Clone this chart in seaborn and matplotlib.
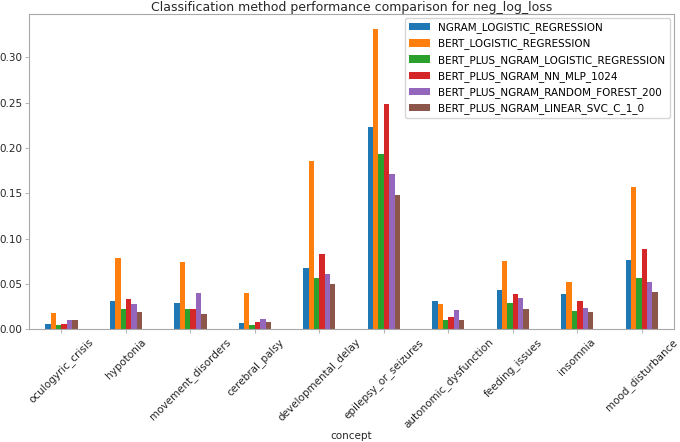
import matplotlib

matplotlib.use("Agg")
import matplotlib.pyplot as plt
import pandas as pd
import seaborn as sns

concepts = [
    "oculogyric_crisis",
    "hypotonia",
    "movement_disorders",
    "cerebral_palsy",
    "developmental_delay",
    "epilepsy_or_seizures",
    "autonomic_dysfunction",
    "feeding_issues",
    "insomnia",
    "mood_disturbance",
]
methods = [
    "NGRAM_LOGISTIC_REGRESSION",
    "BERT_LOGISTIC_REGRESSION",
    "BERT_PLUS_NGRAM_LOGISTIC_REGRESSION",
    "BERT_PLUS_NGRAM_NN_MLP_1024",
    "BERT_PLUS_NGRAM_RANDOM_FOREST_200",
    "BERT_PLUS_NGRAM_LINEAR_SVC_C_1_0",
]

ngram_lr = [0.0059, 0.0313, 0.0290, 0.0066, 0.0676, 0.2232, 0.0309, 0.0438, 0.0393, 0.0765]
bert_lr = [0.0176, 0.0790, 0.0743, 0.0397, 0.1853, 0.3310, 0.0283, 0.0750, 0.0526, 0.1570]
bert_ngram_lr = [0.0044, 0.0228, 0.0228, 0.0048, 0.0570, 0.1938, 0.0103, 0.0290, 0.0199, 0.0563]
bert_ngram_mlp = [0.0059, 0.0335, 0.0228, 0.0077, 0.0830, 0.2490, 0.0140, 0.0386, 0.0313, 0.0890]
bert_ngram_rf = [0.0103, 0.0276, 0.0404, 0.0114, 0.0614, 0.1717, 0.0217, 0.0342, 0.0239, 0.0526]
bert_ngram_svc = [0.0099, 0.0195, 0.0169, 0.0085, 0.0500, 0.1478, 0.0103, 0.0220, 0.0188, 0.0408]

series = [ngram_lr, bert_lr, bert_ngram_lr, bert_ngram_mlp, bert_ngram_rf, bert_ngram_svc]

rows = []
for method, vals in zip(methods, series):
    for concept, v in zip(concepts, vals):
        rows.append({"concept": concept, "method": method, "score": v})
df = pd.DataFrame(rows)

plt.rcParams["font.family"] = ["DejaVu Sans"]
plt.rcParams["axes.edgecolor"] = "#a8a8a8"
plt.rcParams["xtick.color"] = "#a8a8a8"
plt.rcParams["ytick.color"] = "#a8a8a8"
plt.rcParams["xtick.labelcolor"] = "#262626"
plt.rcParams["ytick.labelcolor"] = "#262626"

fig, ax = plt.subplots(figsize=(6.8, 4.42), dpi=100)

sns.barplot(
    data=df,
    x="concept",
    y="score",
    hue="method",
    order=concepts,
    hue_order=methods,
    palette="tab10",
    width=0.5,
    saturation=1,
    errorbar=None,
    ax=ax,
)

ax.set_xlim(-0.5, len(concepts) - 0.5)
ax.set_ylim(0, 0.3476)
ax.set_ylabel("")
ax.set_xlabel("concept", fontsize=7.5, color="#262626", labelpad=0.5)
ax.set_title("Classification method performance comparison for neg_log_loss",
             fontsize=9, pad=2, color="#262626")
ax.tick_params(axis="both", labelsize=7.5, length=2.6, width=0.6, pad=2.6)
plt.setp(ax.get_xticklabels(), rotation=45, ha="center")
for s in ax.spines.values():
    s.set_linewidth(0.8)
ax.legend(loc="upper right", fontsize=7.5, title=None, borderaxespad=0.4)

fig.subplots_adjust(left=0.043, right=0.991, top=0.968, bottom=0.255)
fig.savefig("out.png", dpi=100)
